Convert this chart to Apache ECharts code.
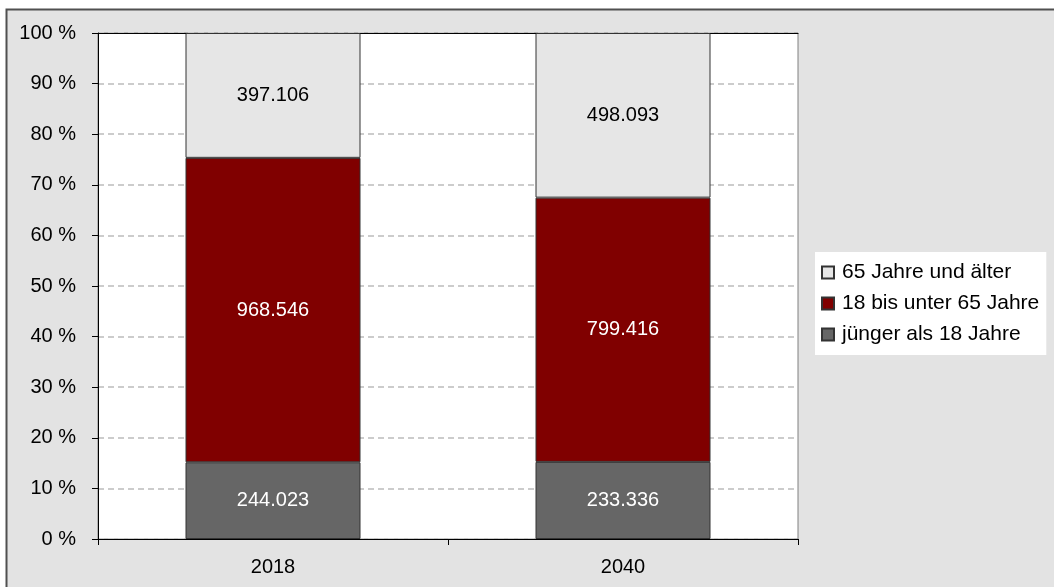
<!DOCTYPE html>
<html>
<head>
<meta charset="utf-8">
<script src="https://cdn.jsdelivr.net/npm/echarts@6/dist/echarts.min.js"></script>
<style>
  html, body { margin: 0; padding: 0; background: #ffffff; }
  #chart { width: 1054px; height: 587px; }
</style>
</head>
<body>
<div id="chart"></div>
<script>
// Population by age group, absolute counts per year
const years = ['2018', '2040'];
const seriesNames = ['jünger als 18 Jahre', '18 bis unter 65 Jahre', '65 Jahre und älter'];
const under18 = [244023, 233336];
const age18to64 = [968546, 799416];
const age65plus = [397106, 498093];
const yTicks = [0, 10, 20, 30, 40, 50, 60, 70, 80, 90, 100];

const groups = [under18, age18to64, age65plus];
const totals = years.map((_, i) => groups.reduce((s, g) => s + g[i], 0));
const share = g => g.map((v, i) => v / totals[i] * 100);

// German thousands separator
const fmt = n => String(n).replace(/\B(?=(\d{3})+(?!\d))/g, '.');

const FONT = "'Liberation Sans', Arial, sans-serif";
const colors = ['#666666', '#800000', '#e6e6e6'];
const labelColors = ['#ffffff', '#ffffff', '#000000'];

const chart = echarts.init(document.getElementById('chart'), null, { renderer: 'canvas' });

chart.setOption({
  animation: false,
  backgroundColor: 'transparent',
  textStyle: { fontFamily: FONT },
  graphic: [{
    type: 'rect',
    z: -10,
    silent: true,
    shape: { x: 6.5, y: 9.5, width: 1100, height: 700 },
    style: { fill: '#e3e3e3', stroke: '#505050', lineWidth: 2 }
  }],
  grid: {
    left: 98, top: 33, width: 700, height: 506,
    show: true, backgroundColor: '#ffffff',
    borderColor: '#808080', borderWidth: 1
  },
  legend: {
    orient: 'vertical',
    left: 815, top: 252,
    backgroundColor: '#ffffff',
    padding: [10, 7, 10, 6],
    itemWidth: 12, itemHeight: 12,
    itemGap: 10,
    icon: 'rect',
    data: [seriesNames[2], seriesNames[1], seriesNames[0]],
    textStyle: { fontFamily: FONT, fontSize: 21, color: '#000', lineHeight: 21, padding: [0, 0, 0, 3] }
  },
  xAxis: [{
    type: 'category',
    data: years,
    position: 'bottom',
    axisLine: { lineStyle: { color: '#000', width: 1 } },
    axisTick: { show: true, length: 6, lineStyle: { color: '#000' } },
    axisLabel: { fontFamily: FONT, fontSize: 20, color: '#000', margin: 18 },
    splitLine: { show: false }
  }, {
    type: 'category',
    data: years,
    position: 'top',
    axisLine: { lineStyle: { color: '#000', width: 1 } },
    axisTick: { show: false },
    axisLabel: { show: false }
  }],
  yAxis: {
    type: 'value',
    min: 0, max: 100, interval: 10,
    axisLine: { show: true, lineStyle: { color: '#000', width: 1 } },
    axisTick: { show: true, length: 6, lineStyle: { color: '#000' } },
    axisLabel: {
      fontFamily: FONT, fontSize: 20, color: '#000', margin: 22,
      formatter: v => yTicks.includes(v) ? v + ' %' : ''
    },
    splitLine: { show: true, lineStyle: { color: '#cccccc', width: 2, type: [6, 4] } }
  },
  series: groups.map((g, k) => ({
    name: seriesNames[k],
    type: 'bar',
    stack: 'total',
    barWidth: '50%',
    data: share(g),
    itemStyle: { color: colors[k], borderColor: '#333333', borderWidth: 1 },
    label: {
      show: true,
      position: 'inside',
      fontFamily: FONT,
      fontSize: 20,
      color: labelColors[k],
      formatter: p => fmt(g[p.dataIndex])
    }
  }))
});
</script>
</body>
</html>
